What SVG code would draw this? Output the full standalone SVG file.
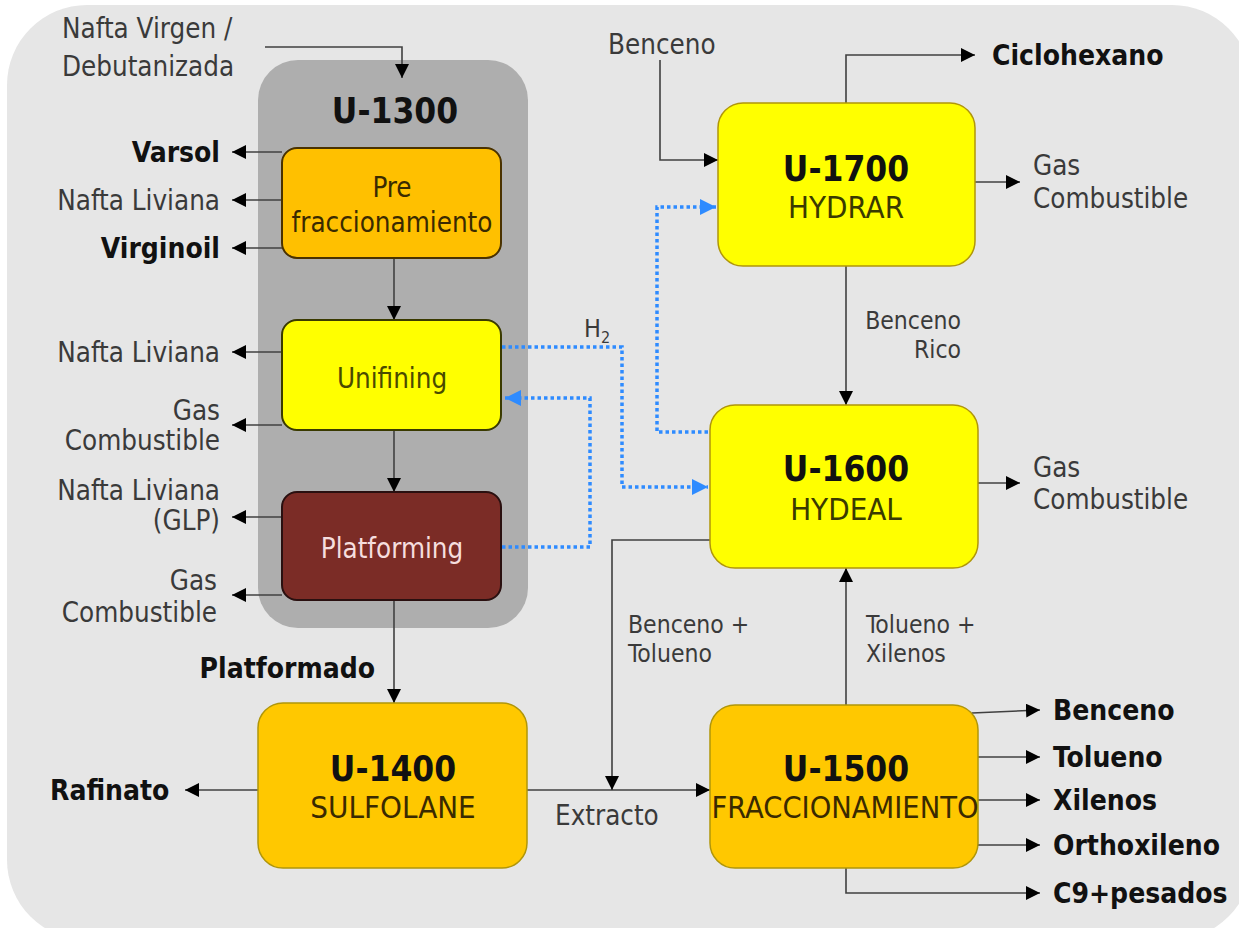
<svg xmlns="http://www.w3.org/2000/svg" width="1239" height="928" viewBox="0 0 1239 928">
<style>
.t{font-family:"DejaVu Sans Condensed","DejaVu Sans",sans-serif;font-stretch:condensed;font-size:27.5px;fill:#3a3a3a}
.b{font-weight:bold;fill:#111;font-size:28px}
.m{text-anchor:middle}
.e{text-anchor:end}
.ti{font-weight:bold;fill:#111;font-size:35px}
.st{font-size:31px}
.s{font-size:24.5px}
.c{stroke:#404040;stroke-width:1.6;fill:none}
.h{stroke:#2e8bff;stroke-width:3.5;stroke-dasharray:3.5 3;fill:none}
.big{stroke:#b0960a;stroke-width:1.5}
</style>
<defs>
<marker id="a" viewBox="0 0 10 10" refX="10" refY="5" markerUnits="userSpaceOnUse" markerWidth="14" markerHeight="14" orient="auto"><path d="M0,0L10,5L0,10z" fill="#000"/></marker>
<marker id="ab" viewBox="0 0 10 10" refX="10" refY="5" markerUnits="userSpaceOnUse" markerWidth="16" markerHeight="18" orient="auto"><path d="M0,0L10,5L0,10z" fill="#2e8bff"/></marker>
</defs>
<rect x="0" y="0" width="1239" height="928" fill="#fff"/>
<rect x="7" y="5" width="1245" height="935" rx="80" fill="#e6e6e6"/>

<g id="u1300">
<rect x="258" y="60" width="270" height="568" rx="40" fill="#aeaeae"/>
<text class="t ti m" x="395" y="123">U-1300</text>
</g>

<g id="connectors">
<path class="c" d="M265,47H402V78" marker-end="url(#a)"/>
<path class="c" d="M282,152H232" marker-end="url(#a)"/>
<path class="c" d="M282,200H232" marker-end="url(#a)"/>
<path class="c" d="M282,248H232" marker-end="url(#a)"/>
<path class="c" d="M394,258V320" marker-end="url(#a)"/>
<path class="c" d="M282,352H232" marker-end="url(#a)"/>
<path class="c" d="M282,425H232" marker-end="url(#a)"/>
<path class="c" d="M394,430V492" marker-end="url(#a)"/>
<path class="c" d="M282,517H232" marker-end="url(#a)"/>
<path class="c" d="M282,595H232" marker-end="url(#a)"/>
<path class="c" d="M394,600V703" marker-end="url(#a)"/>
<path class="c" d="M258,790H185" marker-end="url(#a)"/>
<path class="c" d="M527,790H710" marker-end="url(#a)"/>
<path class="c" d="M710,540H612V790" marker-end="url(#a)"/>
<path class="c" d="M846,705V568" marker-end="url(#a)"/>
<path class="c" d="M846,266V405" marker-end="url(#a)"/>
<path class="c" d="M660,60V160H718" marker-end="url(#a)"/>
<path class="c" d="M846,103V55H975" marker-end="url(#a)"/>
<path class="c" d="M975,182H1020" marker-end="url(#a)"/>
<path class="c" d="M978,483H1020" marker-end="url(#a)"/>
<path class="c" d="M972,713L1040,710" marker-end="url(#a)"/>
<path class="c" d="M978,757H1040" marker-end="url(#a)"/>
<path class="c" d="M978,800H1040" marker-end="url(#a)"/>
<path class="c" d="M978,845H1040" marker-end="url(#a)"/>
<path class="c" d="M846,868V893H1040" marker-end="url(#a)"/>
<path class="h" d="M502,347H622V487H708" marker-end="url(#ab)"/>
<path class="h" d="M502,547H590V398H505" marker-end="url(#ab)"/>
<path class="h" d="M708,432H657V207H716" marker-end="url(#ab)"/>
</g>

<g id="pre">
<rect x="282" y="148" width="219" height="110" rx="15" fill="#ffc000" stroke="#4a3200" stroke-width="2"/>
<text class="t m" x="392" y="197" style="fill:#3a2a00">Pre</text>
<text class="t m" x="392" y="232" style="fill:#3a2a00">fraccionamiento</text>
</g>
<g id="unifining">
<rect x="282" y="320" width="219" height="110" rx="15" fill="#ffff00" stroke="#3a3a00" stroke-width="2"/>
<text class="t m" x="392" y="388" style="fill:#4a4a00">Unifining</text>
</g>
<g id="platforming">
<rect x="282" y="492" width="219" height="108" rx="15" fill="#7b2c26" stroke="#2a1010" stroke-width="2"/>
<text class="t m" x="392" y="558" style="fill:#f5dede">Platforming</text>
</g>
<g id="u1400">
<rect class="big" x="258" y="703" width="269" height="165" rx="25" fill="#ffc800"/>
<text class="t ti m" x="393" y="781">U-1400</text>
<text class="t st m" x="393" y="818" style="fill:#3a2a00">SULFOLANE</text>
</g>
<g id="u1500">
<rect class="big" x="710" y="705" width="268" height="163" rx="25" fill="#ffc800"/>
<text class="t ti m" x="846" y="781">U-1500</text>
<text class="t m" x="845" y="818" style="fill:#3a2a00;font-size:30.5px">FRACCIONAMIENTO</text>
</g>
<g id="u1600">
<rect class="big" x="710" y="405" width="268" height="163" rx="25" fill="#ffff00"/>
<text class="t ti m" x="846" y="481">U-1600</text>
<text class="t st m" x="846" y="520" style="fill:#3a3a00">HYDEAL</text>
</g>
<g id="u1700">
<rect class="big" x="718" y="103" width="257" height="163" rx="25" fill="#ffff00"/>
<text class="t ti m" x="846" y="181">U-1700</text>
<text class="t st m" x="846" y="218" style="fill:#3a3a00">HYDRAR</text>
</g>

<g id="labels">
<text class="t" x="62" y="38">Nafta Virgen /</text>
<text class="t" x="62" y="76">Debutanizada</text>
<text class="t b e" x="220" y="162">Varsol</text>
<text class="t e" x="220" y="210">Nafta Liviana</text>
<text class="t b e" x="220" y="258">Virginoil</text>
<text class="t e" x="220" y="362">Nafta Liviana</text>
<text class="t e" x="220" y="420">Gas</text>
<text class="t e" x="220" y="450">Combustible</text>
<text class="t e" x="220" y="500">Nafta Liviana</text>
<text class="t e" x="220" y="530">(GLP)</text>
<text class="t e" x="217" y="590">Gas</text>
<text class="t e" x="217" y="622">Combustible</text>
<text class="t b e" x="375" y="678">Platformado</text>
<text class="t b" x="50" y="800">Rafinato</text>
<text class="t" x="555" y="825">Extracto</text>
<text class="t s" x="628" y="633">Benceno +</text>
<text class="t s" x="628" y="662">Tolueno</text>
<text class="t s" x="866" y="633">Tolueno +</text>
<text class="t s" x="866" y="662">Xilenos</text>
<text class="t s e" x="961" y="329">Benceno</text>
<text class="t s e" x="961" y="358">Rico</text>
<text class="t" x="584" y="337" style="font-size:25px">H<tspan style="font-size:16px" dy="6">2</tspan></text>
<text class="t" x="608" y="54">Benceno</text>
<text class="t b" x="992" y="65">Ciclohexano</text>
<text class="t" x="1033" y="175">Gas</text>
<text class="t" x="1033" y="208">Combustible</text>
<text class="t" x="1033" y="477">Gas</text>
<text class="t" x="1033" y="509">Combustible</text>
<text class="t b" x="1053" y="720">Benceno</text>
<text class="t b" x="1053" y="767">Tolueno</text>
<text class="t b" x="1053" y="810">Xilenos</text>
<text class="t b" x="1053" y="855">Orthoxileno</text>
<text class="t b" x="1053" y="903">C9+pesados</text>
</g>
</svg>
